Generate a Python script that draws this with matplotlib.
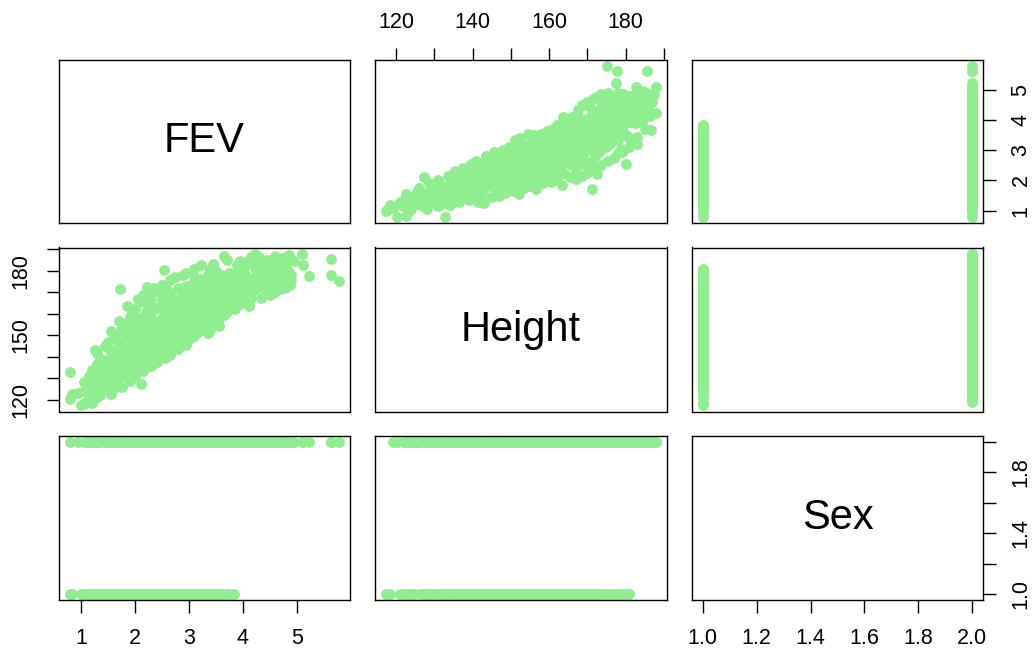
import matplotlib
matplotlib.use('Agg')
import matplotlib.pyplot as plt
import matplotlib.transforms as mtransforms

plt.rcParams['font.family'] = ['Liberation Sans', 'DejaVu Sans']

# ---- data: Height (cm), FEV (litres), Sex code ----
height = [
    117.3, 117.8, 118.5, 119.1, 120.1, 121.0, 121.8, 122.7, 122.7, 123.5, 124.4, 124.0,
    125.4, 125.7, 126.5, 127.0, 127.2, 127.5, 128.0, 128.5, 129.2, 129.5, 129.8,
    130.5, 131.0, 131.5, 132.0, 132.5, 132.9, 133.5, 134.0, 134.5, 135.0,
    135.5, 136.0, 136.3, 136.8, 137.5, 138.0, 138.5, 139.0, 139.5, 140.0, 137.0, 139.8,
    140.5, 141.0, 141.5, 142.0, 142.4, 142.8, 143.2, 143.8, 144.2, 144.7, 145.0, 141.8, 143.0, 144.5,
    145.5, 146.0, 146.3, 146.8, 147.2, 147.6, 148.0, 148.4, 148.8, 149.2, 149.6, 150.0, 145.8, 147.0, 149.0, 150.0,
    150.5, 150.8, 151.3, 151.5, 152.0, 152.4, 152.8, 153.2, 153.6, 154.0, 154.4, 154.8, 155.0, 151.0, 153.0, 155.0, 152.2,
    155.5, 155.8, 156.2, 156.6, 157.0, 157.4, 157.8, 158.2, 158.6, 159.0, 159.4, 159.8, 156.0, 158.0, 160.0, 157.0, 159.5,
    160.5, 160.8, 161.2, 161.6, 162.0, 162.4, 162.8, 163.2, 163.7, 164.0, 164.4, 164.8, 165.0, 161.0, 163.0, 165.0, 162.0, 164.0,
    165.5, 165.8, 166.2, 166.6, 167.0, 167.5, 167.8, 168.2, 168.6, 169.0, 169.4, 169.8, 170.0, 166.0, 168.0, 170.0, 167.0, 169.0,
    170.5, 170.8, 171.3, 171.2, 171.6, 172.0, 172.2, 172.4, 172.6, 172.8, 173.2, 173.6, 174.0, 174.4, 174.8, 175.0, 171.0, 173.0, 174.5, 170.5,
    175.1, 175.5, 175.8, 176.2, 176.6, 177.0, 177.5, 177.8, 178.2, 178.5, 178.8, 179.2, 179.6, 180.0, 180.2, 176.0, 177.0, 179.0, 178.0,
    180.5, 181.0, 181.5, 182.0, 182.5, 182.8, 182.9, 182.9, 183.3, 183.8, 184.2, 184.6, 185.5, 185.5, 185.0, 186.7, 187.0, 188.0, 188.0, 186.0,
    122.0, 123.0, 124.8, 125.0, 126.0, 126.8, 127.8, 128.8, 129.0, 130.0, 130.8, 131.3, 131.8, 132.3,
    133.0, 133.8, 134.2, 134.8, 135.3, 135.8, 136.5, 137.2, 137.8, 138.3, 138.8, 139.3,
    140.3, 140.8, 141.3, 142.3, 142.6, 143.5, 144.0, 144.9, 145.3, 146.5, 146.6, 147.4, 147.8, 148.2, 148.6, 149.4, 149.8,
    150.3, 150.6, 151.1, 151.8, 152.6, 152.9, 153.4, 153.8, 154.2, 154.6, 155.3, 155.7, 156.4, 156.8, 157.2, 157.6,
    158.4, 158.8, 159.2, 159.6, 160.2, 160.4, 161.0, 161.4, 161.8, 162.2, 162.6, 163.0, 163.4, 163.8, 164.2, 164.6,
    165.2, 165.6, 166.0, 166.4, 166.8, 167.2, 167.6, 168.0, 168.4, 168.8, 169.2, 169.6,
    170.2, 170.6, 171.0, 171.4, 171.8, 172.3, 172.7, 173.0, 173.4, 173.8, 174.2, 174.6,
    175.3, 175.6, 176.0, 176.4, 176.8, 177.3, 177.6, 178.0, 178.4, 178.7, 179.0, 179.4, 179.8,
    180.3, 180.8, 181.2, 181.7, 182.2, 182.6, 183.0, 183.5, 184.0, 184.4, 185.2, 186.2, 187.3,
    128.0, 131.0, 134.0, 136.5, 139.0, 141.5, 143.0, 145.0, 146.8, 148.5, 150.5, 152.0, 153.5, 155.0, 156.5, 158.5,
    160.5, 162.0, 163.5, 165.5, 167.0, 168.5, 170.0, 172.0, 173.5, 175.5, 177.0, 179.0, 181.0, 183.0, 185.0,
    126.0, 128.5, 131.0, 133.5, 135.5, 137.5, 139.5, 141.0, 143.5, 145.5, 147.5, 149.5, 151.0, 152.5, 154.5,
    156.5, 158.0, 159.5, 161.0, 163.0, 164.5, 166.5, 168.5, 170.0, 171.5, 173.5, 175.5, 178.5, 181.5, 184.0,
    142.0, 144.0, 146.0, 148.0, 150.0, 151.5, 153.0, 155.5, 157.5, 158.5, 160.0, 161.5, 163.0, 164.5,
    166.0, 167.5, 169.0, 170.5, 172.0, 173.5, 175.0, 176.5, 178.0, 179.5, 181.0, 184.5, 186.5,
]
fev = [
    1.00, 1.06, 1.20, 1.10, 0.79, 1.30, 1.15, 0.83, 1.56, 1.25, 1.40, 1.05,
    1.61, 1.35, 1.20, 1.45, 2.11, 1.11, 1.55, 1.30, 1.50, 1.70, 1.25,
    1.45, 1.65, 1.35, 1.80, 1.55, 0.79, 1.70, 1.45, 1.90, 1.60,
    1.75, 1.50, 2.17, 1.85, 1.65, 2.00, 1.40, 1.80, 2.10, 1.70, 1.95, 1.55,
    1.95, 2.20, 1.75, 2.05, 2.56, 1.60, 2.30, 1.90, 2.45, 2.10, 1.80, 2.40, 1.70, 2.65,
    2.25, 2.50, 1.95, 2.70, 2.15, 2.40, 2.85, 1.85, 2.30, 2.60, 2.05, 2.90, 2.75, 1.75, 2.45, 2.20,
    2.50, 3.05, 3.17, 2.30, 2.75, 1.90, 2.60, 3.00, 2.20, 2.85, 2.45, 3.20, 2.05, 2.60, 2.35, 2.70, 3.25,
    3.10, 2.40, 2.90, 2.20, 3.35, 2.65, 3.00, 2.50, 3.40, 2.75, 2.30, 3.15, 3.50, 2.10, 2.95, 1.95, 3.60,
    3.30, 2.55, 3.00, 3.55, 2.75, 3.20, 2.40, 3.75, 4.11, 2.90, 3.40, 2.60, 3.10, 2.20, 3.60, 3.80, 3.85, 2.25,
    3.35, 2.80, 3.60, 3.05, 3.95, 4.33, 2.55, 3.25, 3.70, 2.90, 3.50, 4.05, 3.10, 4.10, 3.45, 2.45, 2.30, 3.83,
    3.65, 3.00, 1.72, 4.20, 3.40, 2.80, 4.78, 3.85, 2.22, 3.30, 4.00, 3.55, 4.45, 3.15, 4.77, 3.70, 2.60, 2.95, 4.25, 4.45,
    5.79, 4.10, 3.40, 4.55, 3.80, 4.30, 5.22, 5.63, 3.60, 4.60, 3.05, 4.85, 4.00, 3.50, 2.53, 3.20, 4.75, 3.75, 2.90,
    4.50, 3.40, 4.70, 4.20, 3.90, 5.11, 3.22, 3.94, 4.60, 4.35, 4.80, 4.10, 5.64, 4.89, 4.45, 3.66, 4.60, 5.09, 4.22, 4.75,
    1.35, 0.95, 1.20, 1.50, 1.30, 1.60, 1.25, 1.65, 1.40, 1.30, 1.55, 1.75, 1.50, 1.25,
    1.60, 1.85, 1.35, 1.70, 2.00, 1.45, 1.70, 2.05, 1.55, 1.85, 2.20, 1.65,
    2.30, 1.85, 2.05, 1.80, 2.25, 2.10, 1.85, 2.35, 2.55, 2.30, 2.05, 2.60, 2.20, 2.50, 2.05, 2.80, 2.35,
    2.65, 2.10, 2.85, 2.45, 2.20, 2.90, 2.55, 3.10, 2.30, 2.70, 2.50, 2.85, 3.15, 2.60, 2.30, 3.05,
    2.80, 3.20, 2.55, 2.95, 3.50, 2.70, 3.15, 2.85, 3.40, 2.55, 3.00, 3.30, 2.70, 3.50, 3.05, 3.70,
    2.95, 3.55, 3.20, 3.85, 2.75, 3.45, 3.15, 3.75, 2.95, 3.35, 4.00, 3.20,
    3.85, 3.30, 4.10, 3.70, 3.10, 4.30, 3.60, 3.80, 4.15, 3.35, 4.60, 3.90,
    4.40, 3.65, 4.70, 4.00, 4.20, 3.50, 4.45, 4.90, 4.05, 3.80, 4.35, 4.65, 3.90,
    4.25, 4.80, 3.95, 4.40, 4.65, 4.05, 4.80, 4.30, 4.55, 3.95, 4.65, 4.30, 4.85,
    1.05, 1.15, 1.20, 1.30, 1.35, 1.30, 1.25, 1.45, 1.50, 1.60, 1.65, 1.55, 1.75, 1.80, 1.70, 1.90,
    1.95, 2.00, 1.85, 2.10, 2.05, 2.15, 2.25, 2.35, 2.50, 2.65, 2.75, 2.95, 3.10, 3.45, 3.70,
    1.75, 1.90, 2.00, 2.15, 2.30, 2.40, 2.55, 2.65, 2.80, 2.95, 2.95, 3.10, 3.35, 3.40, 3.55,
    3.45, 3.55, 3.65, 3.70, 3.80, 3.95, 4.10, 4.50, 4.60, 4.70, 4.88, 4.90, 4.85, 4.80, 4.75,
    1.55, 2.70, 1.70, 3.00, 1.85, 2.95, 2.00, 3.30, 2.05, 3.55, 2.25, 3.65, 2.45, 3.90,
    2.50, 4.15, 2.65, 4.00, 3.05, 4.40, 3.10, 3.55, 3.35, 4.40, 4.55, 4.95, 4.15,
]
sex = [
    1, 1, 1, 2, 2, 1, 2, 1, 2, 1, 1, 2,
    2, 2, 1, 1, 2, 1, 2, 1, 1, 2, 2,
    1, 2, 1, 2, 1, 1, 1, 2, 2, 1,
    2, 1, 2, 1, 1, 2, 1, 2, 1, 1, 2, 2,
    2, 1, 1, 2, 2, 1, 1, 2, 2, 1, 1, 2, 2, 1,
    2, 1, 1, 2, 2, 1, 2, 1, 2, 1, 2, 1, 2, 1, 1, 2,
    2, 2, 2, 1, 1, 2, 2, 1, 1, 2, 1, 2, 1, 1, 2, 2, 2,
    1, 2, 2, 1, 2, 1, 2, 1, 1, 2, 1, 2, 2, 1, 1, 2, 2,
    2, 1, 1, 2, 2, 1, 1, 2, 2, 1, 2, 2, 1, 2, 1, 2, 2, 1,
    2, 1, 1, 2, 2, 2, 1, 1, 2, 2, 1, 2, 1, 2, 2, 2, 1, 1,
    2, 1, 1, 2, 2, 1, 2, 2, 1, 1, 2, 1, 2, 2, 2, 1, 2, 2, 2, 2,
    2, 2, 1, 2, 2, 2, 2, 2, 1, 2, 2, 2, 2, 2, 1, 2, 2, 1, 2,
    2, 1, 2, 2, 2, 2, 2, 2, 2, 2, 2, 2, 2, 2, 2, 2, 2, 2, 2, 2,
    1, 2, 2, 1, 2, 1, 1, 2, 1, 2, 1, 1, 2, 1,
    2, 2, 1, 1, 1, 2, 2, 1, 1, 1, 2, 2,
    2, 1, 1, 2, 1, 2, 1, 2, 1, 1, 2, 2, 1, 2, 1, 2, 1,
    1, 2, 1, 2, 1, 2, 1, 1, 2, 1, 2, 1, 1, 2, 2, 1,
    2, 2, 1, 1, 1, 2, 2, 1, 1, 1, 2, 2, 1, 1, 2, 2,
    1, 2, 1, 2, 2, 1, 2, 2, 1, 2, 2, 1,
    2, 1, 2, 1, 2, 2, 2, 1, 2, 2, 2, 2,
    2, 2, 2, 2, 2, 1, 2, 2, 2, 2, 2, 2, 2,
    2, 2, 2, 2, 2, 2, 2, 2, 2, 2, 2, 2, 2,
    1, 1, 2, 1, 1, 1, 2, 1, 1, 2, 1, 1, 2, 1, 1, 1,
    2, 1, 1, 1, 2, 1, 1, 2, 1, 2, 1, 2, 2, 2, 2,
    2, 2, 2, 2, 2, 2, 2, 2, 1, 2, 2, 2, 1, 2, 2,
    2, 2, 2, 2, 2, 2, 2, 2, 2, 2, 2, 2, 2, 2, 2,
    1, 2, 1, 2, 1, 2, 1, 2, 1, 2, 1, 2, 1, 2,
    1, 2, 1, 2, 1, 2, 2, 2, 2, 2, 2, 2, 2,
]

names = ['FEV', 'Height', 'Sex']

fev_ticks = [1, 2, 3, 4, 5]
fev_labels = ['1', '2', '3', '4', '5']
height_ticks = [120, 130, 140, 150, 160, 170, 180, 190]
height_labels_top = ['120', '', '140', '', '160', '', '180', '']
height_labels_left = ['120', '', '', '150', '', '', '180', '']
sex_ticks = [1.0, 1.2, 1.4, 1.6, 1.8, 2.0]
sex_labels_bottom = ['1.0', '1.2', '1.4', '1.6', '1.8', '2.0']
sex_labels_right = ['1.0', '', '1.4', '', '1.8', '']

variables = [fev, height, sex]

W, H = 1035, 651
DPI = 100
fig = plt.figure(figsize=(W / DPI, H / DPI), dpi=DPI)

col_x = [(59, 350), (375, 667), (692, 983)]
row_y = [(60, 223), (247.5, 411.5), (436, 600)]


def rng(v):
    lo, hi = min(v), max(v)
    d = (hi - lo) * 0.04
    return lo - d, hi + d


PT_GREEN = '#90EE90'
LABEL_SIZE = 15.5
LABEL_OFF = 38  # px from axis line to label centre
TICK_KW = dict(direction='out', length=9, width=1.0, colors='black')

axes = {}
for i in range(3):
    for j in range(3):
        x0, x1 = col_x[j]
        y0, y1 = row_y[i]
        ax = fig.add_axes([x0 / W, 1 - y1 / H, (x1 - x0) / W, (y1 - y0) / H])
        axes[(i, j)] = ax
        for s in ax.spines.values():
            s.set_linewidth(1.0)
        ax.tick_params(axis='both', which='both', bottom=False, top=False, left=False, right=False,
                       labelbottom=False, labeltop=False, labelleft=False, labelright=False)
        ax.set_xlim(*rng(variables[j]))
        ax.set_ylim(*rng(variables[i]))
        if i == j:
            ax.text(0.5, 0.5, names[i], transform=ax.transAxes, ha='center', va='center', fontsize=30)
        else:
            ax.plot(variables[j], variables[i], 'o', color=PT_GREEN, ms=7.8, mec='none')


def offset(dx_px, dy_px):
    return mtransforms.ScaledTranslation(dx_px / DPI, dy_px / DPI, fig.dpi_scale_trans)


def xaxis(ax, ticks, labels, side):
    ax.set_xticks(ticks)
    if side == 'top':
        ax.tick_params(axis='x', top=True, **TICK_KW)
        base, dy = 1, LABEL_OFF
    else:
        ax.tick_params(axis='x', bottom=True, **TICK_KW)
        base, dy = 0, -LABEL_OFF - 1
    tr = mtransforms.blended_transform_factory(ax.transData, ax.transAxes) + offset(0, dy)
    for t, lab in zip(ticks, labels):
        if lab:
            ax.text(t, base, lab, transform=tr, ha='center', va='center',
                    fontsize=LABEL_SIZE, clip_on=False)


def yaxis(ax, ticks, labels, side):
    ax.set_yticks(ticks)
    if side == 'left':
        ax.tick_params(axis='y', left=True, **TICK_KW)
        base, dx = 0, -LABEL_OFF
    else:
        ax.tick_params(axis='y', right=True, **TICK_KW)
        base, dx = 1, LABEL_OFF
    tr = mtransforms.blended_transform_factory(ax.transAxes, ax.transData) + offset(dx, 0)
    for t, lab in zip(ticks, labels):
        if lab:
            ax.text(base, t, lab, transform=tr, ha='center', va='center', rotation=90,
                    fontsize=LABEL_SIZE, clip_on=False)


xaxis(axes[(0, 1)], height_ticks, height_labels_top, 'top')
yaxis(axes[(0, 2)], fev_ticks, fev_labels, 'right')
yaxis(axes[(1, 0)], height_ticks, height_labels_left, 'left')
xaxis(axes[(2, 0)], fev_ticks, fev_labels, 'bottom')
xaxis(axes[(2, 2)], sex_ticks, sex_labels_bottom, 'bottom')
yaxis(axes[(2, 2)], sex_ticks, sex_labels_right, 'right')

fig.savefig('out.png', dpi=DPI)
